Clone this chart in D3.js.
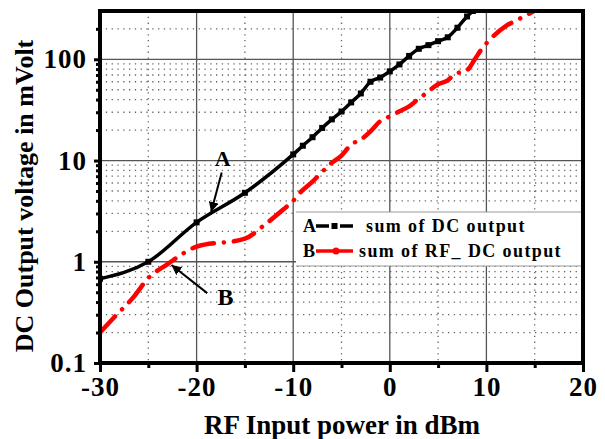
<!DOCTYPE html>
<html>
<head>
<meta charset="utf-8">
<script src="https://cdn.jsdelivr.net/npm/d3@7"></script>
<style>
  body { margin: 0; background: #fff; }
  text { font-family: "Liberation Serif", "Times New Roman", serif; font-weight: bold; }
</style>
</head>
<body>
<div id="chart"></div>
<script>
// RF input power (dBm) vs DC output (mV)
const sumDcX = [-30, -25, -20, -15, -10, -9, -8, -7, -6, -5, -4, -3, -2, -1, 0, 1, 2, 3, 4, 5, 6, 7, 8, 8.6];
const sumDcY = [0.68, 1.0, 2.45, 4.8, 11.5, 14, 17, 21, 25.5, 30.5, 37.5, 46, 60, 66, 76, 89, 108, 127, 138, 151, 165, 205, 265, 300];

const sumRfDcX = [-30, -28.5, -26.6, -25, -23, -20, -15, -13, -11, -10, -9.3, -8, -6, -5, -4, -3, -2, -1, 0, 1, 2, 3, 3.6, 5, 6, 6.7, 8, 8.8, 9.5, 10.4, 12, 13.2, 14.8];
const sumRfDcY = [0.2, 0.285, 0.44, 0.69, 0.95, 1.41, 1.69, 2.3, 3.3, 4.0, 4.8, 6.2, 9.5, 11.2, 14.4, 16.1, 19.4, 24.4, 27.3, 30.6, 34.2, 41, 45, 56.7, 62, 71, 78, 100, 126, 158, 213, 245, 295];

const xMajor = [-30, -20, -10, 0, 10, 20];
const xMinor = [-25, -15, -5, 5, 15];
const yMajor = [0.1, 1, 10, 100];
const yMinor = [0.2, 0.3, 0.4, 0.5, 0.6, 0.7, 0.8, 0.9, 2, 3, 4, 5, 6, 7, 8, 9,
                20, 30, 40, 50, 60, 70, 80, 90, 200, 300];

const legendLabels = ["sum of DC output", "sum of RF_ DC output"];

const width = 605, height = 439;
const plot = { left: 100, right: 583, top: 11, bottom: 363 };

const svg = d3.select("#chart").append("svg")
  .attr("width", width)
  .attr("height", height);

const x = d3.scaleLinear().domain([-30, 20]).range([plot.left, plot.right]);
const y = d3.scaleLog().domain([0.1, 300]).range([plot.bottom, plot.top]);

// grid
const grid = svg.append("g");
grid.selectAll(".vmin").data(xMinor).enter().append("line")
  .attr("x1", d => x(d)).attr("x2", d => x(d))
  .attr("y1", plot.top).attr("y2", plot.bottom)
  .attr("stroke", "#666").attr("stroke-width", 1.3).attr("stroke-dasharray", "1.3,4.5");
grid.selectAll(".hmin").data(yMinor).enter().append("line")
  .attr("x1", plot.left).attr("x2", plot.right)
  .attr("y1", d => y(d)).attr("y2", d => y(d))
  .attr("stroke", "#666").attr("stroke-width", 1.3).attr("stroke-dasharray", "1.3,4.5");
grid.selectAll(".vmaj").data(xMajor.slice(1, -1)).enter().append("line")
  .attr("x1", d => x(d)).attr("x2", d => x(d))
  .attr("y1", plot.top).attr("y2", plot.bottom)
  .attr("stroke", "#555").attr("stroke-width", 1.3);
grid.selectAll(".hmaj").data(yMajor.slice(1)).enter().append("line")
  .attr("x1", plot.left).attr("x2", plot.right)
  .attr("y1", d => y(d)).attr("y2", d => y(d))
  .attr("stroke", "#555").attr("stroke-width", 1.3);

// legend box (drawn over grid)
const legend = svg.append("g").attr("transform", "translate(296,212)");
legend.append("rect")
  .attr("x", 0).attr("y", 0).attr("width", plot.right - 296).attr("height", 54)
  .attr("fill", "#fff");
legend.append("line").attr("x1", 0).attr("x2", plot.right - 296).attr("y1", 0).attr("y2", 0)
  .attr("stroke", "#999").attr("stroke-width", 1);
legend.append("line").attr("x1", 0).attr("x2", plot.right - 296).attr("y1", 54).attr("y2", 54)
  .attr("stroke", "#999").attr("stroke-width", 1);

// curves
const lineA = d3.line()
  .x((d, i) => x(sumDcX[i]))
  .y(d => y(d))
  .curve(d3.curveMonotoneX);
const lineB = d3.line()
  .x((d, i) => x(sumRfDcX[i]))
  .y(d => y(d))
  .curve(d3.curveMonotoneX);

svg.append("clipPath").attr("id", "clip")
  .append("rect").attr("x", plot.left).attr("y", plot.top)
  .attr("width", plot.right - plot.left).attr("height", plot.bottom - plot.top);

const curves = svg.append("g").attr("clip-path", "url(#clip)");

curves.append("path")
  .datum(sumRfDcY)
  .attr("d", lineB)
  .attr("fill", "none")
  .attr("stroke", "#ff0000")
  .attr("stroke-width", 4.5)
  .attr("stroke-linecap", "round")
  .attr("stroke-dasharray", "22,10,0.1,10");

curves.append("path")
  .datum(sumDcY)
  .attr("d", lineA)
  .attr("fill", "none")
  .attr("stroke", "#000")
  .attr("stroke-width", 3.5);

curves.selectAll(".sq").data(sumDcY).enter().append("rect")
  .attr("x", (d, i) => x(sumDcX[i]) - 3)
  .attr("y", d => y(d) - 3)
  .attr("width", 6).attr("height", 6)
  .attr("fill", "#000");

// axes
const xAxisMinor = d3.axisBottom(x).tickValues(xMinor).tickSize(5).tickFormat("");
const xAxisMajor = d3.axisBottom(x).tickValues(xMajor).tickSize(9).tickPadding(5)
  .tickFormat(d => String(d));
const yAxisMinor = d3.axisLeft(y).tickValues(yMinor.filter(d => d < 300)).tickSize(4).tickFormat("");
const yAxisMajor = d3.axisLeft(y).tickValues(yMajor).tickSize(6).tickPadding(7)
  .tickFormat(d => String(d));

function styleAxis(g) {
  g.select(".domain").remove();
  g.selectAll(".tick line").attr("stroke", "#000").attr("stroke-width", 3);
  g.selectAll(".tick text").attr("fill", "#000")
    .style("font-size", "27px").style("letter-spacing", "1px");
}

svg.append("g").attr("transform", "translate(0," + plot.bottom + ")").call(xAxisMinor).call(styleAxis);
svg.append("g").attr("transform", "translate(0," + plot.bottom + ")").call(xAxisMajor).call(styleAxis);
svg.append("g").attr("transform", "translate(" + plot.left + ",0)").call(yAxisMinor).call(styleAxis);
svg.append("g").attr("transform", "translate(" + plot.left + ",0)").call(yAxisMajor).call(styleAxis);

// frame
svg.append("rect")
  .attr("x", plot.left).attr("y", plot.top)
  .attr("width", plot.right - plot.left).attr("height", plot.bottom - plot.top)
  .attr("fill", "none").attr("stroke", "#000").attr("stroke-width", 4);

// legend content
const legendRows = legend.selectAll(".row").data(legendLabels).enter().append("g")
  .attr("transform", (d, i) => "translate(0," + (20 + i * 25) + ")");
legendRows.append("text")
  .attr("x", 7).attr("y", 0)
  .style("font-size", "18px")
  .text((d, i) => i === 0 ? "A" : "B");
legendRows.append("line")
  .attr("x1", 20).attr("x2", 57).attr("y1", -6).attr("y2", -6)
  .attr("stroke", (d, i) => i === 0 ? "#000" : "#ff0000")
  .attr("stroke-width", 3.5)
  .attr("stroke-dasharray", (d, i) => i === 0 ? "13,4,3,4,13" : null);
legendRows.filter((d, i) => i === 0).append("rect")
  .attr("x", 38.5 - 3).attr("y", -9).attr("width", 6).attr("height", 6).attr("fill", "#000");
legendRows.filter((d, i) => i === 1).append("circle")
  .attr("cx", 40).attr("cy", -6).attr("r", 3.5).attr("fill", "#ff0000");
legendRows.append("text")
  .attr("x", (d, i) => i === 0 ? 70 : 63).attr("y", 0)
  .style("font-size", "18px")
  .style("letter-spacing", "1.4px")
  .text(d => d);

// annotations
svg.append("defs").append("marker")
  .attr("id", "arrow")
  .attr("viewBox", "0 0 10 10")
  .attr("refX", 10).attr("refY", 5)
  .attr("markerWidth", 5).attr("markerHeight", 5)
  .attr("markerUnits", "strokeWidth")
  .attr("orient", "auto")
  .append("path").attr("d", "M0,0 L10,5 L0,10 z").attr("fill", "#000");

const notes = [
  { label: "A", lx: -17.3, ly: 8.9, x1: -17.4, y1: 7.6, x2: -18.5, y2: 3.1, size: 22 },
  { label: "B", lx: -17.0, ly: 0.375, x1: -18.9, y1: 0.49, x2: -22.6, y2: 0.93, size: 24 }
];
svg.selectAll(".note-line").data(notes).enter().append("line")
  .attr("x1", d => x(d.x1)).attr("y1", d => y(d.y1))
  .attr("x2", d => x(d.x2)).attr("y2", d => y(d.y2))
  .attr("stroke", "#000").attr("stroke-width", 2)
  .attr("marker-end", "url(#arrow)");
svg.selectAll(".note-text").data(notes).enter().append("text")
  .attr("x", d => x(d.lx)).attr("y", d => y(d.ly))
  .attr("text-anchor", "middle")
  .style("font-size", d => d.size + "px")
  .text(d => d.label);

// axis titles
svg.append("text")
  .attr("x", 342).attr("y", 434)
  .attr("text-anchor", "middle")
  .style("font-size", "27px")
  .text("RF Input power in dBm");
svg.append("text")
  .attr("transform", "translate(33,196) rotate(-90)")
  .attr("text-anchor", "middle")
  .style("font-size", "26px")
  .text("DC Output voltage in mVolt");
</script>
</body>
</html>
